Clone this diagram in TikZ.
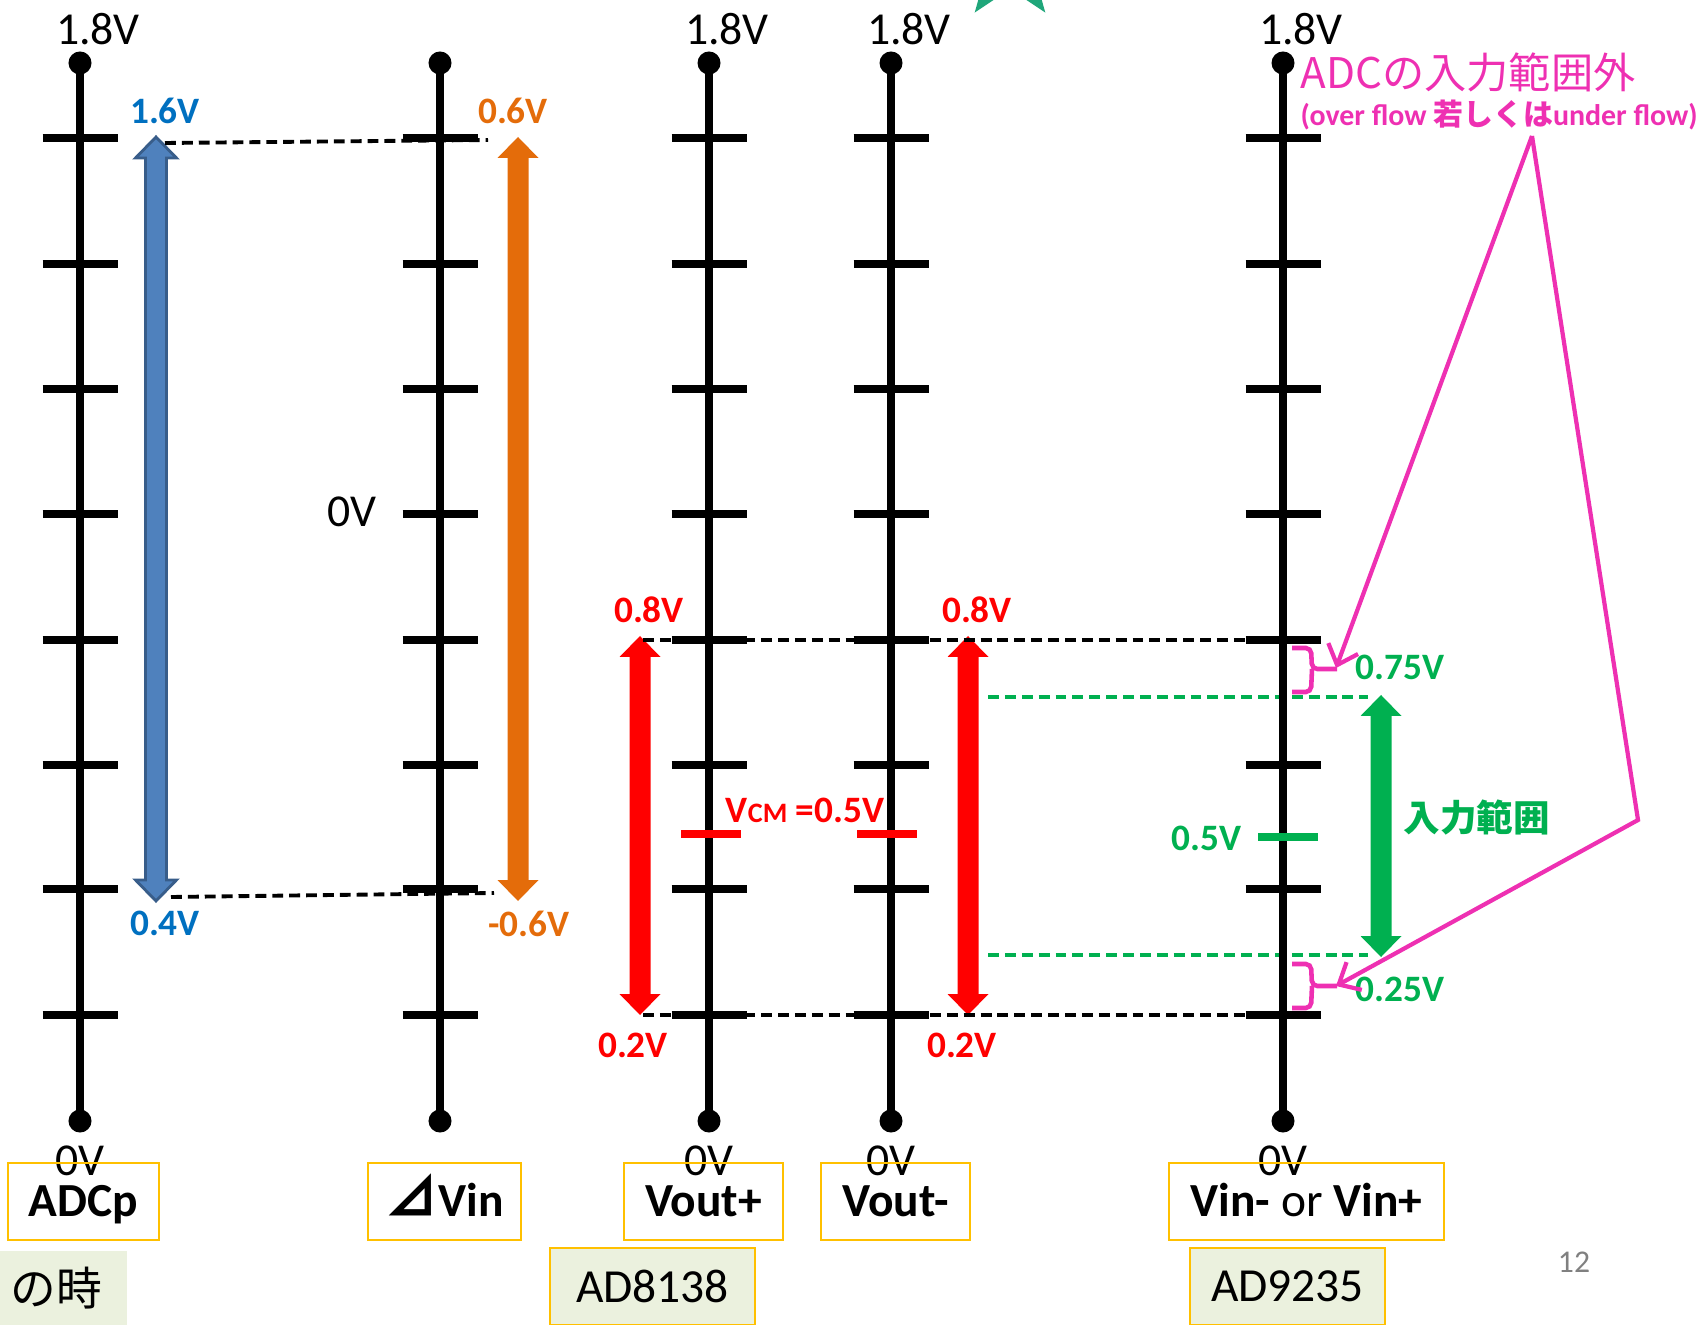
\documentclass[tikz,border=0pt]{standalone}
\usepackage{fontspec}
\setmainfont{Carlito}
\newfontfamily\cjk{Noto Sans CJK JP}
\usetikzlibrary{arrows.meta,positioning,shapes.geometric}
\definecolor{lblblue}{RGB}{0,112,192}
\definecolor{arrblue}{RGB}{79,129,189}
\definecolor{arrblueline}{RGB}{56,93,138}
\definecolor{rngorange}{RGB}{228,108,10}
\definecolor{rngred}{RGB}{255,0,0}
\definecolor{rnggreen}{RGB}{0,176,80}
\definecolor{ovfpink}{RGB}{238,48,178}
\definecolor{boxgold}{RGB}{255,192,0}
\definecolor{chipfill}{RGB}{235,241,222}
\definecolor{stargreen}{RGB}{31,166,122}

% block arrow: x, top y, bottom y, style
\newcommand{\vrange}[4]{%
  \path[#4] (#1,#2) -- (#1+20.5,#2+21) -- (#1+10.5,#2+21) -- (#1+10.5,#3-21)
    -- (#1+20.5,#3-21) -- (#1,#3) -- (#1-20.5,#3-21) -- (#1-10.5,#3-21)
    -- (#1-10.5,#2+21) -- (#1-20.5,#2+21) -- cycle;}

\begin{document}
\begin{tikzpicture}[x=0.01cm,y=-0.01cm,
    rail/.style={line width=2.1pt},
    supply/.style={inner sep=0pt,font=\fontsize{13}{15}\selectfont},
    volt/.style={inner sep=0pt,font=\fontsize{10.6}{12}\selectfont\bfseries},
    guide/.style={line width=1.1pt,dash pattern=on 3.1pt off 1.7pt},
    sigbox/.style={draw=boxgold,line width=0.6pt,minimum height=0.77cm,inner sep=0pt,
      text height=0.88em,text depth=0pt,font=\fontsize{13.5}{15}\selectfont\bfseries},
    chipbox/.style={draw=boxgold,fill=chipfill,line width=0.6pt,minimum height=0.77cm,
      inner sep=0pt,font=\fontsize{13.5}{15}\selectfont},
    brace/.style={ovfpink,line width=1.3pt,rounded corners=1.5pt},
    callout/.style={ovfpink,line width=1.2pt,-{Straight Barb[length=5pt,width=9pt]}}
  ]
  \useasboundingbox (0,0) rectangle (1703,1325);

  % star cut off by the top edge
  \node[star,star points=5,star point ratio=2.4,fill=stargreen,inner sep=0pt,
    minimum size=1.2cm] (deco) at (1010,-36) {};

  % ranges
  \vrange{156}{137}{901}{fill=arrblue,draw=arrblueline,line width=0.8pt}
  \vrange{518}{137}{901}{fill=rngorange}
  \vrange{640}{636}{1015}{fill=rngred}
  \vrange{968}{636}{1015}{fill=rngred}
  \vrange{1381}{695}{957}{fill=rnggreen}

  \coordinate (adc-hi) at (165,143);
  \coordinate (adc-lo) at (171,897);
  \coordinate (dvin-hi) at (488,140);
  \coordinate (dvin-lo) at (494,893);
  \coordinate (amp-hi) at (643,640);
  \coordinate (amp-lo) at (643,1015);
  \coordinate (vin-hi) at (1250,640);
  \coordinate (vin-lo) at (1250,1015);
  \coordinate (win-hi-l) at (988,697);
  \coordinate (win-hi-r) at (1368,697);
  \coordinate (win-lo-l) at (988,955);
  \coordinate (win-lo-r) at (1368,955);

  \draw[guide] (adc-hi) -- (dvin-hi);
  \draw[guide] (adc-lo) -- (dvin-lo);
  \draw[guide] (amp-hi) -- (vin-hi);
  \draw[guide] (amp-lo) -- (vin-lo);
  \draw[guide,rnggreen] (win-hi-l) -- (win-hi-r);
  \draw[guide,rnggreen] (win-lo-l) -- (win-lo-r);

  % rails with ticks
  \foreach \rn/\rx in {adc/80,dvin/440,voutp/709,voutn/891,vin/1283}{
    \coordinate (\rn-top) at (\rx,63);
    \coordinate (\rn-bot) at (\rx,1121);
    \draw[rail] (\rn-top) -- (\rn-bot);
    \fill (\rn-top) circle[radius=0.115cm] (\rn-bot) circle[radius=0.115cm];
    \foreach \ty in {138,264,389,514,640,765,889,1015}
      \draw[rail] (\rx-37.5,\ty) -- (\rx+37.5,\ty);
  }
  \draw[rail,rngred] (681,834) -- (741,834);
  \draw[rail,rngred] (857,834) -- (917,834);
  \draw[rail,rnggreen] (1258,837) -- (1318,837);

  \foreach \rn/\rx in {adc/80,voutp/709,voutn/891,vin/1283}{
    \node[supply] (\rn-vdd) at (\rx+18,29) {1.8V};
    \node[supply] (\rn-gnd) at (\rx,1161) {0V};
  }
  \node[supply] (dvin-zero) at (352,512) {0V};

  % voltage labels
  \node[volt,lblblue] (adc-max) at (165,111) {1.6V};
  \node[volt,lblblue] (adc-min) at (165,923) {0.4V};
  \node[volt,rngorange] (dvin-max) at (513,111) {0.6V};
  \node[volt,rngorange] (dvin-min) at (529,924) {-0.6V};
  \node[volt,rngred] (voutp-max) at (649,610) {0.8V};
  \node[volt,rngred] (voutn-max) at (977,610) {0.8V};
  \node[volt,rngred] (voutp-min) at (633,1045) {0.2V};
  \node[volt,rngred] (voutn-min) at (962,1045) {0.2V};
  \node[volt,rngred] (vcm) at (805,810) {V{\fontsize{8}{9}\selectfont CM} =0.5V};
  \node[volt,rnggreen,anchor=west] (vin-max) at (1355,667) {0.75V};
  \node[volt,rnggreen,anchor=west] (vin-min) at (1355,989) {0.25V};
  \node[volt,rnggreen,anchor=east] (vin-mid) at (1242,838) {0.5V};
  \node[volt,rnggreen,anchor=west,font=\cjk\fontsize{10.4}{12}\selectfont\bfseries]
    (inrange) at (1403,818) {入力範囲};

  % out of range note
  \node[anchor=west,inner sep=0pt,ovfpink,font=\cjk\fontsize{12}{14}\selectfont]
    (ovf-title) at (1300,72) {ADCの入力範囲外};
  \node[anchor=west,inner sep=0pt,ovfpink,font=\fontsize{8.5}{10}\selectfont\bfseries]
    (ovf-note) at (1300,115) {(over flow {\cjk 若しくは}under flow)};
  \coordinate (ovf-apex) at (1532,136);
  \coordinate (ovf-knee) at (1638,820);
  \coordinate (over-tip) at (1336,668);
  \coordinate (under-tip) at (1336,986);

  \draw[brace] (1292,648) -- (1311,648) -- (1312,669) -- (1337,669)
    (1312,669) -- (1311,692) -- (1292,692);
  \draw[brace] (1292,964) -- (1311,964) -- (1312,986) -- (1337,986)
    (1312,986) -- (1311,1008) -- (1292,1008);
  \draw[callout] (ovf-apex) -- (over-tip);
  \draw[callout] (ovf-apex) -- (ovf-knee) -- (under-tip);

  % signal names
  \node[sigbox,minimum width=1.51cm] (name-adc) at (83.5,1201.5) {ADCp};
  \node[sigbox,minimum width=1.53cm] (name-dvin) at (444.5,1201.5)
    {{\cjk\bfseries\fontsize{15}{16}\selectfont ⊿}Vin};
  \node[sigbox,minimum width=1.59cm] (name-voutp) at (703.5,1201.5) {Vout+};
  \node[sigbox,minimum width=1.49cm] (name-voutn) at (895.5,1201.5) {Vout-};
  \node[sigbox,minimum width=2.75cm] (name-vin) at (1306.5,1201.5) {Vin- {\mdseries or} Vin+};
  \node[chipbox,minimum width=2.05cm] (chip-amp) at (652.5,1286.5) {AD8138\hspace{0.1cm}};
  \node[chipbox,minimum width=1.95cm] (chip-adc) at (1287.5,1286.5) {AD9235};
  \node[fill=chipfill,minimum height=0.74cm,inner ysep=0pt,inner xsep=0.11cm,
    text width=1.05cm,align=left,font=\cjk\fontsize{13}{15}\selectfont] (cond) at (63.5,1288) {の時};
  \node[inner sep=0pt,gray,font=\fontsize{9}{10}\selectfont] (pageno) at (1574,1262) {12};
\end{tikzpicture}
\end{document}
